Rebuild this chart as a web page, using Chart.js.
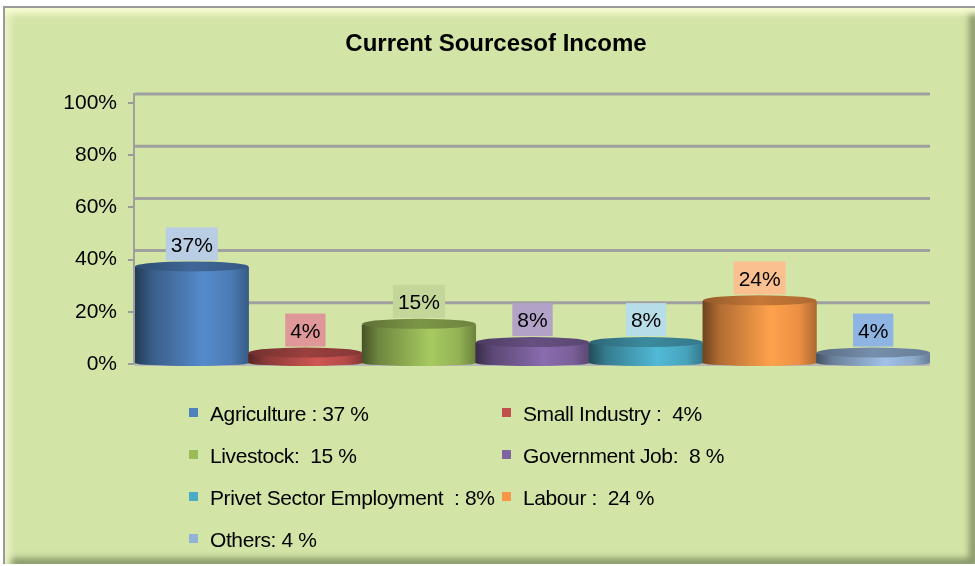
<!DOCTYPE html>
<html>
<head>
<meta charset="utf-8">
<script src="https://cdn.jsdelivr.net/npm/chart.js@4.4.0/dist/chart.umd.min.js"></script>
<style>
  html, body { margin: 0; padding: 0; background: #ffffff; }
  #frame {
    position: absolute; left: 3px; top: 6px; width: 972px; height: 558px;
    box-sizing: border-box;
    background: #d2e4a6;
    border-left: 2px solid #9a9a9a; border-top: 2px solid #9a9a9a;
    box-shadow: inset 0 10px 6px -4px #f8fbd2, inset 10px 0 6px -4px #e8f1c2,
                inset -10px 0 6px -4px #8a9a6c, inset 0 -10px 6px -4px #8a9a6c;
  }
  #wrap { position: absolute; left: 0; top: 0; width: 975px; height: 566px; }
</style>
</head>
<body>
<div id="frame"></div>
<div id="wrap"><canvas id="chart" width="975" height="566"></canvas></div>
<script>
const categories = ['Agriculture', 'Small Industry', 'Livestock', 'Government Job', 'Privet Sector Employment', 'Labour', 'Others']
const shares = [37, 4, 15, 8, 8, 24, 4]
const legendLabels = ['Agriculture : 37 %', 'Small Industry :  4%', 'Livestock:  15 %', 'Government Job:  8 %', 'Privet Sector Employment  : 8%', 'Labour :  24 %', 'Others: 4 %']
const yTicks = [0, 20, 40, 60, 80, 100]
const barColors = ['#4f81bd', '#c0504d', '#9bbb59', '#8064a2', '#4bacc6', '#f79646', '#95b3d7']
const boxColors = ['#b9cde5', '#e09797', '#c4d79b', '#b3a2c7', '#b7dee8', '#fac090', '#8eb4e3']

const FONT = '"Liberation Sans", Arial, sans-serif'

function shade(hex, f) {
  const n = parseInt(hex.slice(1), 16)
  const c = [(n >> 16) & 255, (n >> 8) & 255, n & 255].map(v => Math.max(0, Math.min(255, Math.round(v * f))))
  return 'rgb(' + c.join(',') + ')'
}

function bodyGradient(ctx, x, w, color) {
  const g = ctx.createLinearGradient(x - w / 2, 0, x + w / 2, 0)
  g.addColorStop(0, shade(color, 0.45))
  g.addColorStop(0.15, shade(color, 0.72))
  g.addColorStop(0.6, shade(color, 1.08))
  g.addColorStop(0.85, shade(color, 0.95))
  g.addColorStop(1, shade(color, 0.7))
  return g
}

// draws the 3D back wall lines, cylinder caps, value boxes, title and legend
const decorPlugin = {
  id: 'decor',
  beforeDatasetsDraw(chart) {
    const ctx = chart.ctx
    const area = chart.chartArea
    const y = chart.scales.y
    ctx.save()
    ctx.strokeStyle = '#a0a0a0'
    ctx.lineWidth = 3
    yTicks.forEach(v => {
      if (v === 0) return
      const py = y.getPixelForValue(v) - 9
      ctx.beginPath()
      ctx.moveTo(area.left, py)
      ctx.lineTo(area.right, py)
      ctx.stroke()
    })
    ctx.lineWidth = 2
    ctx.beginPath()
    ctx.moveTo(area.left - 1, y.getPixelForValue(100) - 10)
    ctx.lineTo(area.left - 1, area.bottom + 1)
    ctx.stroke()
    ctx.strokeStyle = '#b8b8b8'
    ctx.beginPath()
    ctx.moveTo(area.left, area.bottom + 1)
    ctx.lineTo(area.right, area.bottom + 1)
    ctx.stroke()
    ctx.restore()
  },
  afterDatasetsDraw(chart) {
    const ctx = chart.ctx
    const meta = chart.getDatasetMeta(0)
    ctx.save()
    meta.data.forEach((el, i) => {
      const color = barColors[i]
      const w = el.width
      // rounded bottom
      ctx.fillStyle = bodyGradient(ctx, el.x, w, color)
      ctx.beginPath()
      ctx.ellipse(el.x, el.base, w / 2, 3, 0, 0, Math.PI)
      ctx.fill()
      // top cap
      const g = ctx.createLinearGradient(el.x - w / 2, 0, el.x + w / 2, 0)
      g.addColorStop(0, shade(color, 0.6))
      g.addColorStop(0.5, shade(color, 0.8))
      g.addColorStop(1, shade(color, 0.7))
      ctx.fillStyle = g
      ctx.beginPath()
      ctx.ellipse(el.x, el.y - 1, w / 2, 5, 0, 0, Math.PI * 2)
      ctx.fill()
    })
    // value boxes
    ctx.font = '21px ' + FONT
    ctx.textAlign = 'center'
    ctx.textBaseline = 'middle'
    meta.data.forEach((el, i) => {
      const text = shares[i] + '%'
      const tw = ctx.measureText(text).width
      const bw = tw + 10
      const bh = 33
      const by = el.y - 7 - bh
      ctx.fillStyle = boxColors[i]
      ctx.fillRect(el.x - bw / 2, by, bw, bh)
      ctx.fillStyle = '#000'
      ctx.fillText(text, el.x, by + bh / 2 + 2)
    })
    ctx.restore()
  },
  afterDraw(chart) {
    const ctx = chart.ctx
    ctx.save()
    ctx.fillStyle = '#000'
    ctx.textBaseline = 'middle'
    ctx.textAlign = 'center'
    ctx.font = 'bold 24px ' + FONT
    ctx.fillText('Current Sourcesof Income', 496, 44)
    // legend in two columns
    ctx.textAlign = 'left'
    ctx.font = '21px ' + FONT
    ctx.letterSpacing = '-0.4px'
    const colX = [189, 502]
    const rowY = [414, 456, 498, 540]
    legendLabels.forEach((label, i) => {
      const cx = colX[i % 2]
      const cy = rowY[Math.floor(i / 2)]
      ctx.fillStyle = barColors[i]
      ctx.fillRect(cx, cy - 6, 9, 9)
      ctx.fillStyle = '#000'
      ctx.fillText(label, cx + 21, cy + 1)
    })
    ctx.restore()
  }
}

new Chart(document.getElementById('chart'), {
  type: 'bar',
  data: {
    labels: categories,
    datasets: [{
      data: shares,
      backgroundColor: (c) => {
        const chart = c.chart
        const area = chart.chartArea
        if (!area || c.dataIndex === undefined) return barColors[c.dataIndex || 0]
        const x = chart.scales.x.getPixelForValue(c.dataIndex)
        const w = (area.right - area.left) / categories.length
        return bodyGradient(chart.ctx, x, w, barColors[c.dataIndex])
      },
      borderWidth: 0,
      barPercentage: 1,
      categoryPercentage: 1
    }]
  },
  options: {
    responsive: false,
    animation: false,
    layout: { padding: { top: 103, bottom: 202, right: 45, left: 0 } },
    plugins: {
      legend: { display: false },
      tooltip: { enabled: false }
    },
    scales: {
      x: { display: false },
      y: {
        min: 0,
        max: 100,
        afterFit: (s) => { s.width = 135 },
        afterBuildTicks: (s) => { s.ticks = yTicks.map(v => ({ value: v })) },
        ticks: {
          callback: (v) => v + '%',
          color: '#000',
          font: { family: FONT, size: 21 },
          padding: 11
        },
        grid: { drawOnChartArea: false, tickLength: 7, color: '#9a9a9a', lineWidth: 2 },
        border: { display: false }
      }
    }
  },
  plugins: [decorPlugin]
})
</script>
</body>
</html>
